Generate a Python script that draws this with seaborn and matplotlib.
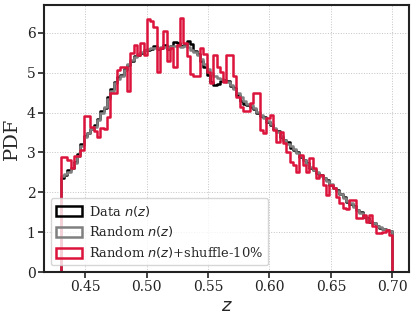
import numpy as np
import pandas as pd
import matplotlib
matplotlib.use("Agg")
import matplotlib.pyplot as plt
import seaborn as sns

# ---- data ----
z_min, z_max, n_bins = 0.43, 0.70, 100

data_nz = [2.35, 2.44, 2.55, 2.60, 2.75, 2.95, 3.20, 3.42, 3.48, 3.60,
           3.68, 3.85, 4.05, 4.12, 4.40, 4.60, 4.78, 4.90, 4.95, 5.10,
           5.20, 5.30, 5.42, 5.45, 5.50, 5.58, 5.58, 5.60, 5.66, 5.60,
           5.62, 5.70, 5.60, 5.66, 5.78, 5.74, 5.66, 5.70, 5.80, 5.72,
           5.55, 5.46, 5.30, 5.15, 4.95, 4.78, 4.70, 4.72, 4.80, 4.82,
           4.80, 4.68, 4.62, 4.45, 4.30, 4.22, 4.20, 4.15, 4.10, 4.00,
           3.92, 3.88, 3.76, 3.70, 3.60, 3.55, 3.40, 3.30, 3.25, 3.12,
           3.05, 3.00, 2.88, 2.80, 2.74, 2.62, 2.55, 2.48, 2.44, 2.35,
           2.30, 2.18, 2.10, 2.05, 1.95, 1.88, 1.76, 1.70, 1.66, 1.55,
           1.50, 1.38, 1.35, 1.26, 1.24, 1.15, 1.10, 1.09, 1.05, 1.02]

random_nz = [2.40, 2.45, 2.52, 2.62, 2.74, 2.90, 3.15, 3.40, 3.50, 3.58,
             3.65, 3.82, 4.00, 4.15, 4.35, 4.55, 4.74, 4.85, 4.92, 5.08,
             5.22, 5.32, 5.40, 5.47, 5.52, 5.56, 5.60, 5.62, 5.63, 5.62,
             5.64, 5.65, 5.63, 5.66, 5.68, 5.66, 5.64, 5.67, 5.65, 5.58,
             5.52, 5.44, 5.35, 5.22, 5.10, 5.00, 4.92, 4.88, 4.85, 4.80,
             4.78, 4.70, 4.60, 4.48, 4.38, 4.30, 4.22, 4.18, 4.12, 4.02,
             3.95, 3.86, 3.78, 3.72, 3.62, 3.52, 3.42, 3.32, 3.22, 3.15,
             3.08, 2.98, 2.90, 2.82, 2.72, 2.64, 2.56, 2.50, 2.42, 2.36,
             2.28, 2.20, 2.12, 2.04, 1.96, 1.86, 1.78, 1.72, 1.64, 1.56,
             1.48, 1.40, 1.34, 1.28, 1.22, 1.16, 1.12, 1.08, 1.06, 1.04]

shuffle_nz = [2.88, 2.88, 2.82, 2.62, 2.92, 2.92, 3.05, 3.92, 3.92, 3.65,
              3.55, 3.38, 3.62, 3.60, 3.90, 4.48, 4.50, 5.07, 5.15, 5.15,
              4.53, 5.49, 5.70, 5.45, 5.75, 5.45, 6.36, 6.30, 6.16, 5.03,
              5.63, 6.04, 5.29, 5.63, 5.15, 5.70, 6.37, 5.75, 5.41, 4.98,
              4.93, 4.93, 5.63, 5.47, 5.03, 4.74, 5.45, 5.15, 5.03, 4.78,
              5.45, 5.45, 4.93, 4.40, 4.15, 4.03, 4.03, 4.24, 4.49, 4.49,
              3.57, 3.49, 3.86, 3.94, 3.57, 3.27, 3.52, 3.23, 3.02, 2.77,
              2.69, 2.52, 2.94, 2.69, 2.52, 2.86, 2.60, 2.35, 2.44, 2.19,
              1.93, 2.19, 2.10, 1.89, 1.73, 1.60, 1.58, 1.81, 1.81, 1.35,
              1.35, 1.43, 1.25, 1.43, 1.16, 0.97, 0.97, 1.01, 1.05, 0.93]

labels = [r"Data $n(z)$", r"Random $n(z)$", r"Random $n(z)$+shuffle-10%"]
colors = ["black", "gray", "crimson"]
xticks = [0.45, 0.50, 0.55, 0.60, 0.65, 0.70]
yticks = [0, 1, 2, 3, 4, 5, 6]

# ---- style ----
sns.set_theme(style="whitegrid")
plt.rcParams.update({
    "font.family": ["DejaVu Serif"],
    "mathtext.fontset": "dejavusans",
    "axes.edgecolor": "#222222",
    "axes.linewidth": 1.5,
    "grid.linestyle": ":",
    "grid.color": "#c4c4c4",
    "grid.linewidth": 0.7,
    "xtick.bottom": True,
    "ytick.left": True,
    "xtick.direction": "out",
    "ytick.direction": "out",
    "xtick.major.size": 4,
    "ytick.major.size": 4,
    "xtick.major.width": 1.2,
    "ytick.major.width": 1.2,
    "xtick.color": "#222222",
    "ytick.color": "#222222",
})

bin_width = (z_max - z_min) / n_bins
centers = z_min + bin_width * (np.arange(n_bins) + 0.5)

fig = plt.figure(figsize=(4.15, 3.21), dpi=100)
ax = fig.add_axes([0.106, 0.1526, 0.8795, 0.8304])

for vals, lab, col in zip([data_nz, random_nz, shuffle_nz], labels, colors):
    df = pd.DataFrame({"z": centers, "w": vals})
    sns.histplot(data=df, x="z", weights="w", bins=n_bins,
                 binrange=(z_min, z_max), stat="count",
                 element="step", fill=True, color=col, facecolor="none",
                 edgecolor=col, linewidth=1.8, label=lab, ax=ax)

ax.set_xticks(xticks)
ax.set_yticks(yticks)
ax.tick_params(labelsize=10, pad=2)
ax.set_xlabel(r"$z$", fontsize=13, labelpad=2)
ax.set_ylabel("PDF", fontsize=14, labelpad=4)
ax.grid(True, which="major")
for s in ax.spines.values():
    s.set_visible(True)
    s.set_color("#222222")
    s.set_linewidth(1.5)

leg = ax.legend(loc="lower left", fontsize=9.4, frameon=True,
                handlelength=2.0, handleheight=0.8, borderpad=0.4,
                labelspacing=0.45, handletextpad=0.55, borderaxespad=0.5)
leg.get_frame().set_edgecolor("#cccccc")
leg.get_frame().set_alpha(0.8)

fig.savefig("out.png", dpi=100)
